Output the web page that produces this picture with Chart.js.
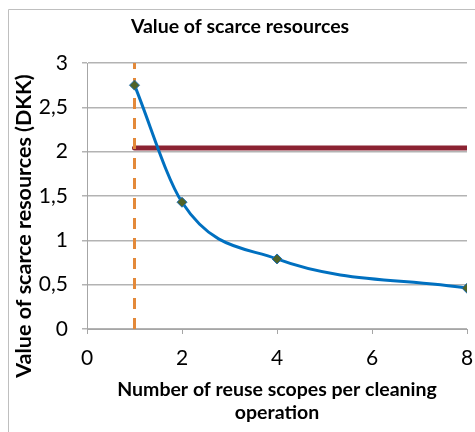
<!DOCTYPE html>
<html>
<head>
<meta charset="utf-8">
<script src="https://cdn.jsdelivr.net/npm/chart.js@4"></script>
<style>
  html, body { margin: 0; padding: 0; background: #fff; }
  #wrap { width: 475px; height: 432px; position: relative; }
</style>
</head>
<body>
<div id="wrap"><canvas id="myChart" width="475" height="432"></canvas></div>
<script>
const chartTitle = 'Value of scarce resources';
const xTitle = ['Number of reuse scopes per cleaning', 'operation'];
const yTitle = 'Value of scarce resources (DKK)';

const scopes = [1, 2, 4, 8];
const values = [2.75, 1.43, 0.79, 0.46];

const limitX = [1, 8];
const limitY = [2.04, 2.04];

const markerX = [1, 1];
const markerY = [0, 3];

const FONT = 'Lato, "Open Sans", sans-serif';

function pts(xs, ys) {
    return xs.map((x, i) => ({ x: x, y: ys[i] }));
}

// frame + titles drawn on the canvas
const decor = {
    id: 'decor',
    beforeDraw(chart) {
        const ctx = chart.ctx;
        ctx.save();
        ctx.fillStyle = '#fff';
        ctx.fillRect(0, 0, chart.width, chart.height);
        ctx.strokeStyle = '#bfbfbf';
        ctx.lineWidth = 1;
        ctx.beginPath();
        ctx.moveTo(8.5, chart.height);
        ctx.lineTo(8.5, 9.5);
        ctx.lineTo(chart.width, 9.5);
        ctx.stroke();
        ctx.restore();
    },
    afterDraw(chart) {
        const ctx = chart.ctx;
        ctx.save();
        ctx.fillStyle = '#000';
        ctx.textAlign = 'center';
        ctx.textBaseline = 'middle';
        ctx.font = 'bold 19.5px ' + FONT;
        ctx.fillText(chartTitle, 240, 27);
        ctx.fillText(xTitle[0], 277, 390);
        ctx.fillText(xTitle[1], 277, 413);
        ctx.font = 'bold 21.5px ' + FONT;
        ctx.translate(24, 226);
        ctx.rotate(-Math.PI / 2);
        ctx.fillText(yTitle, 0, 0);
        ctx.restore();
    }
};

const config = {
    type: 'scatter',
    data: {
        datasets: [
            {
                label: 'limit',
                data: pts(limitX, limitY),
                showLine: true,
                borderColor: '#8B2332',
                borderWidth: 5,
                borderCapStyle: 'round',
                pointRadius: 0,
                order: 3
            },
            {
                label: 'marker',
                data: pts(markerX, markerY),
                showLine: true,
                borderColor: '#E3893A',
                borderWidth: 3,
                borderDash: [11, 9],
                pointRadius: 0,
                order: 2
            },
            {
                label: 'value',
                data: pts(scopes, values),
                showLine: true,
                cubicInterpolationMode: 'monotone',
                borderColor: '#0070C0',
                borderWidth: 3,
                pointStyle: 'rectRot',
                pointRadius: 5,
                pointBackgroundColor: '#4F6228',
                pointBorderColor: '#1F6FB0',
                pointBorderWidth: 1,
                order: 1
            }
        ]
    },
    options: {
        responsive: false,
        animation: false,
        layout: { padding: { top: 63, right: 0, left: 0, bottom: 0 } },
        plugins: {
            legend: { display: false },
            title: { display: false },
            tooltip: { enabled: false }
        },
        scales: {
            x: {
                type: 'linear',
                min: 0,
                max: 8,
                ticks: {
                    stepSize: 2,
                    color: '#000',
                    padding: 12,
                    font: { family: FONT, size: 21 }
                },
                grid: {
                    drawOnChartArea: false,
                    drawTicks: true,
                    tickLength: 5,
                    color: '#a6a6a6'
                },
                border: { color: '#a6a6a6' },
                afterFit(scale) {
                    scale.height = 103;
                    scale.paddingRight = 8;
                }
            },
            y: {
                min: 0,
                max: 3,
                ticks: {
                    stepSize: 0.5,
                    color: '#000',
                    padding: 14,
                    font: { family: FONT, size: 21 },
                    callback: v => String(v).replace('.', ',')
                },
                grid: {
                    color: '#b3b3b3',
                    lineWidth: 1.5,
                    tickLength: 5
                },
                border: { color: '#a6a6a6' },
                afterFit(scale) { scale.width = 87; }
            }
        }
    },
    plugins: [decor]
};

const myChart = new Chart(document.getElementById('myChart'), config);
</script>
</body>
</html>
